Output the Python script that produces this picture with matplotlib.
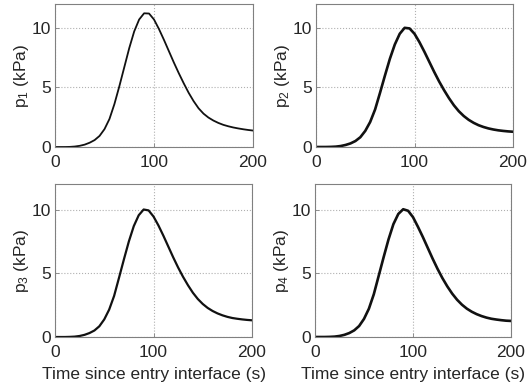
import matplotlib
matplotlib.use("Agg")
import matplotlib.pyplot as plt

plt.rcParams['font.family'] = ['Liberation Sans', 'DejaVu Sans']
plt.rcParams['mathtext.fontset'] = 'custom'
plt.rcParams['mathtext.rm'] = 'Liberation Sans'
plt.rcParams['mathtext.it'] = 'Liberation Sans'

t = list(range(0, 201, 5))

p1 = [0, 0, 0, 0.01, 0.04, 0.1, 0.2, 0.36, 0.58, 0.93, 1.5, 2.35, 3.6, 5.1, 6.7, 8.3,
      9.7, 10.7, 11.22, 11.2, 10.7, 9.9, 9.0, 8.05, 7.1, 6.2, 5.35, 4.55, 3.85, 3.25,
      2.8, 2.47, 2.22, 2.02, 1.86, 1.74, 1.64, 1.56, 1.49, 1.43, 1.38]
p2 = [0, 0, 0, 0.01, 0.03, 0.08, 0.17, 0.3, 0.5, 0.82, 1.35, 2.1, 3.15, 4.55, 6.0, 7.4,
      8.6, 9.5, 10.0, 9.95, 9.5, 8.8, 8.0, 7.15, 6.3, 5.5, 4.77, 4.1, 3.5, 3.0,
      2.6, 2.28, 2.03, 1.83, 1.68, 1.56, 1.47, 1.4, 1.35, 1.31, 1.28]
p3 = [0, 0, 0, 0.01, 0.03, 0.08, 0.17, 0.31, 0.51, 0.84, 1.38, 2.15, 3.22, 4.65, 6.1, 7.5,
      8.7, 9.55, 10.0, 9.93, 9.45, 8.75, 7.95, 7.1, 6.25, 5.45, 4.72, 4.06, 3.47, 2.98,
      2.59, 2.28, 2.04, 1.85, 1.7, 1.58, 1.49, 1.43, 1.38, 1.34, 1.31]
p4 = [0, 0, 0, 0.01, 0.03, 0.08, 0.17, 0.31, 0.52, 0.86, 1.42, 2.22, 3.35, 4.8, 6.25, 7.65,
      8.85, 9.65, 10.02, 9.9, 9.4, 8.65, 7.85, 7.0, 6.15, 5.35, 4.62, 3.97, 3.4, 2.92,
      2.53, 2.22, 1.98, 1.79, 1.64, 1.52, 1.43, 1.37, 1.32, 1.28, 1.26]

series = [p1, p2, p3, p4]
ylabels = ['p$_1$ (kPa)', 'p$_2$ (kPa)', 'p$_3$ (kPa)', 'p$_4$ (kPa)']
widths = [1.3, 1.9, 1.6, 1.9]
xticks = [0, 100, 200]
yticks = [0, 5, 10]
xlabel = 'Time since entry interface (s)'

W, H = 530, 389
fig = plt.figure(figsize=(W / 100, H / 100), dpi=100)
boxes = [(55, 4, 253, 147), (316, 4, 513, 147), (55, 184, 252, 337), (315, 184, 511, 337)]

for i, (x0, y0, x1, y1) in enumerate(boxes):
    ax = fig.add_axes([x0 / W, (H - y1) / H, (x1 - x0) / W, (y1 - y0) / H])
    ax.plot(t, series[i], color='#111111', lw=widths[i],
            solid_joinstyle='round', solid_capstyle='round')
    ax.set_xlim(0, 200)
    ax.set_ylim(0, 12)
    ax.set_xticks(xticks)
    ax.set_yticks(yticks)
    ax.grid(True, linestyle=':', color='#b0b0b0', lw=0.8)
    for s in ax.spines.values():
        s.set_color('#808080')
        s.set_linewidth(0.8)
    ax.tick_params(direction='in', length=3, width=0.6, color='#808080',
                   labelsize=12.5, labelcolor='#262626')
    ax.tick_params(axis='x', pad=5.5)
    ax.tick_params(axis='y', pad=3)
    ax.set_ylabel(ylabels[i], fontsize=12.5, color='#262626', labelpad=0)
    if i >= 2:
        ax.set_xlabel(xlabel, fontsize=12.5, color='#262626', labelpad=5)

fig.savefig('out.png', dpi=100)
